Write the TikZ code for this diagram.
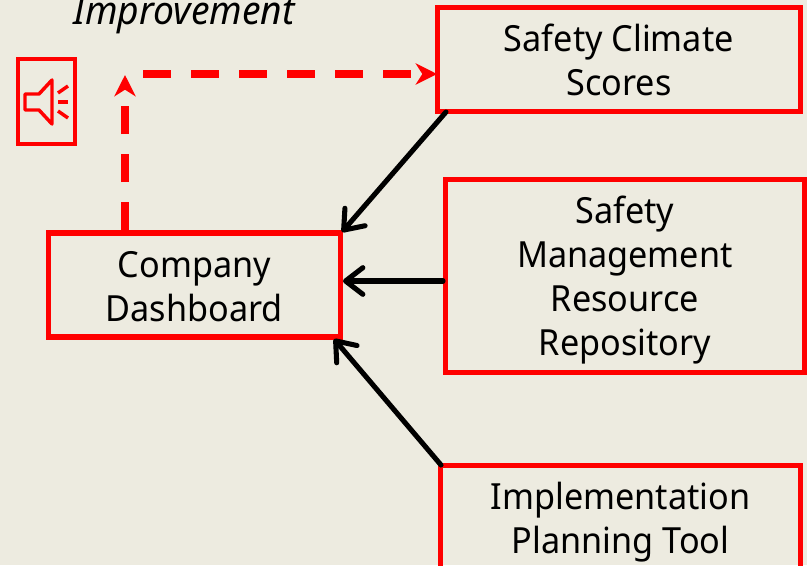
\documentclass[tikz,border=0pt]{standalone}
\usepackage{fontspec}
\setmainfont[FakeStretch=.95]{Noto Sans}
\usepackage[svgnames]{xcolor}
\usetikzlibrary{positioning,arrows.meta}
\definecolor{paper}{RGB}{237,235,224}
\definecolor{boxred}{RGB}{255,0,0}
\tikzset{
    toolbox/.style={draw=boxred, line width=3.8pt, inner sep=0pt, align=center, font=\fontsize{27}{33}\selectfont, anchor=north west},
    feed/.style={black, line width=3.8pt, line cap=round, -{Straight Barb[length=13pt,width=20pt,round]}},
    link/.style={boxred, line width=5.4pt, dash pattern=on 21pt off 15pt, -{Stealth[length=16pt,width=16pt,inset=5pt]}},
    horn/.style={boxred, line width=2.6pt, line join=round}
}

\begin{document}
\begin{tikzpicture}[x=.75pt,y=-.75pt]
    \useasboundingbox (0,0) rectangle (807,565);
    \clip (0,0) rectangle (807,565);
    \fill[paper] (0,0) rectangle (807,565);

    \node[inner sep=0pt, font=\fontsize{29.4}{33}\selectfont\itshape] (title) at (184,15) {Improvement};

    \node[toolbox, minimum width=272pt, minimum height=78pt] (scores)    at (435,5)   {Safety Climate\\Scores};
    \node[toolbox, text depth=0pt, minimum width=269pt, minimum height=145pt] (repo) at (443,177) {Safety\\Management\\Resource\\Repository};
    \node[toolbox, line width=4.2pt, text height=55pt, minimum width=219pt, minimum height=78pt] (dashboard) at (45.5,230) {Company\\Dashboard};
    \node[toolbox, minimum width=270pt, minimum height=85pt] (plan)      at (438,463) {Implementation\\Planning Tool};

    % speaker
    \node[draw=boxred, line width=2.8pt, minimum width=43pt, minimum height=64pt, inner sep=0pt] (speaker) at (46.5,101.5) {};
    \draw[horn] (25,94) -- (39,94) -- (52,80) -- (52,124) -- (39,110) -- (25,110) -- cycle;
    \draw[horn] (58,93) -- (68,86);
    \draw[horn] (58,102) -- (68,102);
    \draw[horn] (58,111) -- (68,118);

    % arrows into the dashboard
    \coordinate (scoresout) at (446,112);
    \coordinate (planout)   at (441,465);
    \coordinate (repoout)   at (443,281);
    \coordinate (dashtop)   at (342,232);
    \coordinate (dashright) at (343,281);
    \coordinate (dashlow)   at (334,339);
    \draw[feed] (scoresout) -- (dashtop);
    \draw[feed] (repoout)   -- (dashright);
    \draw[feed] (planout)   -- (dashlow);

    % dashed link
    \coordinate (linkup)    at (125,75);
    \coordinate (linkstart) at (143,74);
    \coordinate (linkend)   at (437,74);
    \draw[link] (dashboard.north -| linkup) -- (linkup);
    \draw[link] (linkstart) -- (linkend);
\end{tikzpicture}
\end{document}
